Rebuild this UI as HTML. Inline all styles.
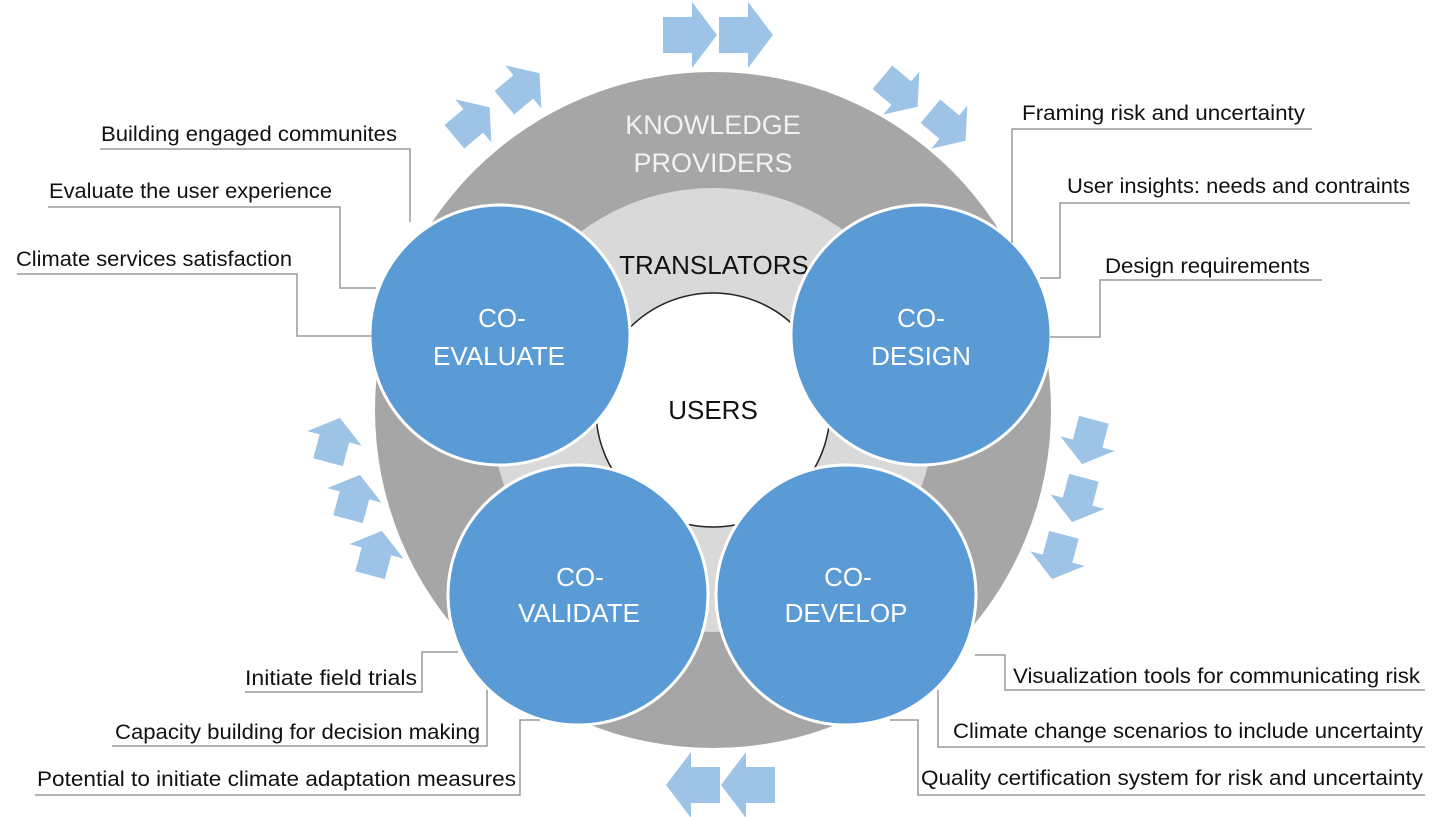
<!DOCTYPE html>
<html><head><meta charset="utf-8"><style>
html,body{margin:0;padding:0;background:#fff;}
svg{display:block;}
text{font-family:"Liberation Sans",sans-serif;}
</style></head><body>
<svg width="1440" height="817" viewBox="0 0 1440 817" xmlns="http://www.w3.org/2000/svg">
<defs>
<polygon id="ar" points="-27,-18 2,-18 2,-33 27,0 2,33 2,18 -27,18" fill="#9dc3e6"/>
</defs>
<use href="#ar" transform="translate(690,35)"/>
<use href="#ar" transform="translate(746,35)"/>
<use href="#ar" transform="translate(472,122) rotate(-40) scale(0.85)"/>
<use href="#ar" transform="translate(522,88) rotate(-40) scale(0.85)"/>
<use href="#ar" transform="translate(900,92) rotate(40) scale(0.85)"/>
<use href="#ar" transform="translate(948,126) rotate(40) scale(0.85)"/>
<use href="#ar" transform="translate(1088,442) rotate(105) scale(0.85)"/>
<use href="#ar" transform="translate(1078,500) rotate(105) scale(0.85)"/>
<use href="#ar" transform="translate(1058,557) rotate(105) scale(0.85)"/>
<use href="#ar" transform="translate(334,440) rotate(-75) scale(0.85)"/>
<use href="#ar" transform="translate(354,497) rotate(-75) scale(0.85)"/>
<use href="#ar" transform="translate(376,553) rotate(-75) scale(0.85)"/>
<use href="#ar" transform="translate(693,785) rotate(180)"/>
<use href="#ar" transform="translate(748,785) rotate(180)"/>

<circle cx="713" cy="410" r="338" fill="#a6a6a6"/>
<circle cx="713" cy="410" r="222" fill="#d9d9d9"/>
<circle cx="713" cy="410" r="117" fill="#fff" stroke="#222" stroke-width="1.5"/>

<text x="713" y="134" font-size="27" fill="#f2f2f2" text-anchor="middle">KNOWLEDGE</text>
<text x="713" y="172" font-size="27" fill="#f2f2f2" text-anchor="middle">PROVIDERS</text>
<text x="714" y="274" font-size="26" fill="#111" text-anchor="middle">TRANSLATORS</text>
<text x="713" y="419" font-size="26" fill="#111" text-anchor="middle">USERS</text>

<g fill="#5b9bd5" stroke="#fff" stroke-width="3">
<circle cx="500" cy="335" r="130"/>
<circle cx="921" cy="335" r="130"/>
<circle cx="578" cy="595" r="130"/>
<circle cx="846" cy="595" r="130"/>
</g>
<g fill="#fff" font-size="26" text-anchor="middle">
<text x="502" y="327">CO-</text><text x="499" y="365">EVALUATE</text>
<text x="921" y="327">CO-</text><text x="921" y="365">DESIGN</text>
<text x="580" y="586">CO-</text><text x="579" y="622">VALIDATE</text>
<text x="848" y="586">CO-</text><text x="846" y="622">DEVELOP</text>
</g>

<g fill="none" stroke="#9a9a9a" stroke-width="1.5">
<polyline points="100,149 410,149 410,222"/>
<polyline points="48,207 340,207 340,288 376,288"/>
<polyline points="17,274 297,274 297,336 372,336"/>
<polyline points="1312,129 1012,129 1012,243"/>
<polyline points="1410,203 1060,203 1060,278 1040,278"/>
<polyline points="1322,280 1100,280 1100,337 1050,337"/>
<polyline points="245,692 422,692 422,652 458,652"/>
<polyline points="112,746 487,746 487,690"/>
<polyline points="35,795 520,795 520,720 540,720"/>
<polyline points="1425,690 1005,690 1005,655 975,655"/>
<polyline points="1425,747 938,747 938,690"/>
<polyline points="1425,795 918,795 918,720 890,720"/>
</g>

<g fill="#111" font-size="21">
<text x="101" y="141" textLength="296" lengthAdjust="spacingAndGlyphs">Building engaged communites</text>
<text x="49" y="198" textLength="283" lengthAdjust="spacingAndGlyphs">Evaluate the user experience</text>
<text x="16" y="266" textLength="276" lengthAdjust="spacingAndGlyphs">Climate services satisfaction</text>
<text x="1022" y="120" textLength="283" lengthAdjust="spacingAndGlyphs">Framing risk and uncertainty</text>
<text x="1067" y="193" textLength="343" lengthAdjust="spacingAndGlyphs">User insights: needs and contraints</text>
<text x="1105" y="273" textLength="205" lengthAdjust="spacingAndGlyphs">Design requirements</text>
<text x="245" y="685" textLength="172" lengthAdjust="spacingAndGlyphs">Initiate field trials</text>
<text x="115" y="739" textLength="365" lengthAdjust="spacingAndGlyphs">Capacity building for decision making</text>
<text x="37" y="786" textLength="479" lengthAdjust="spacingAndGlyphs">Potential to initiate climate adaptation measures</text>
<text x="1013" y="683" textLength="407" lengthAdjust="spacingAndGlyphs">Visualization tools for communicating risk</text>
<text x="953" y="738" textLength="470" lengthAdjust="spacingAndGlyphs">Climate change scenarios to include uncertainty</text>
<text x="921" y="785" textLength="502" lengthAdjust="spacingAndGlyphs">Quality certification system for risk and uncertainty</text>
</g>
</svg>
</body></html>
